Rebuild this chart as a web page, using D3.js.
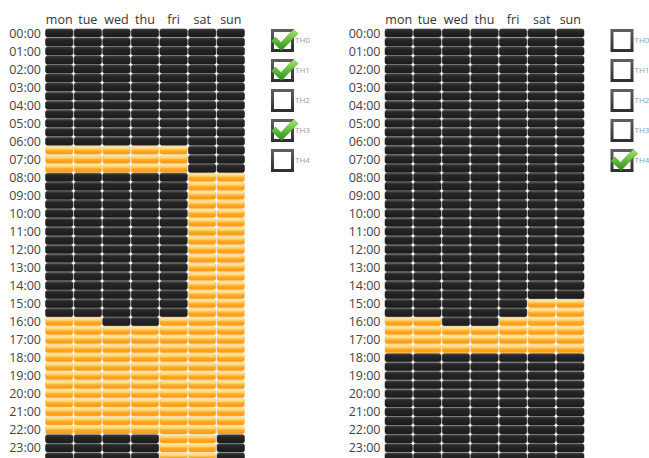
<!DOCTYPE html>
<html>
<head>
<meta charset="utf-8">
<script src="https://cdn.jsdelivr.net/npm/d3@7"></script>
<style>
  body { margin: 0; background: #fff; }
  svg { display: block; }
</style>
</head>
<body>
<svg id="chart" width="649" height="458"></svg>
<script>
// days and hours
var days = ["mon", "tue", "wed", "thu", "fri", "sat", "sun"];
var hours = ["00:00","01:00","02:00","03:00","04:00","05:00","06:00","07:00","08:00","09:00","10:00","11:00",
             "12:00","13:00","14:00","15:00","16:00","17:00","18:00","19:00","20:00","21:00","22:00","23:00"];
var thermos = ["TH0", "TH1", "TH2", "TH3", "TH4"];

// "on" periods per day, [from, to) in half hours
var scheduleLeft = [
  [["06:30","08:00"], ["16:00","22:30"]],
  [["06:30","08:00"], ["16:00","22:30"]],
  [["06:30","08:00"], ["16:30","22:30"]],
  [["06:30","08:00"], ["16:30","22:30"]],
  [["06:30","08:00"], ["16:00","24:00"]],
  [["08:00","24:00"]],
  [["08:00","22:30"]]
];
var scheduleRight = [
  [["16:00","18:00"]],
  [["16:00","18:00"]],
  [["16:30","18:00"]],
  [["16:30","18:00"]],
  [["16:00","18:00"]],
  [["15:00","18:00"]],
  [["15:00","18:00"]]
];
var checkedLeft = [true, true, false, true, false];
var checkedRight = [false, false, false, false, true];

var svg = d3.select("#chart");

var defs = svg.append("defs");
var gOff = defs.append("linearGradient").attr("id", "cellOff").attr("x1", 0).attr("y1", 0).attr("x2", 0).attr("y2", 1);
gOff.append("stop").attr("offset", "0%").attr("stop-color", "#4a4a4a");
gOff.append("stop").attr("offset", "25%").attr("stop-color", "#262626");
gOff.append("stop").attr("offset", "100%").attr("stop-color", "#1c1c1c");
var gOn = defs.append("linearGradient").attr("id", "cellOn").attr("x1", 0).attr("y1", 0).attr("x2", 0).attr("y2", 1);
gOn.append("stop").attr("offset", "0%").attr("stop-color", "#fff2c0");
gOn.append("stop").attr("offset", "35%").attr("stop-color", "#ffcf5e");
gOn.append("stop").attr("offset", "55%").attr("stop-color", "#ffa82a");
gOn.append("stop").attr("offset", "100%").attr("stop-color", "#ff9808");
var gBox = defs.append("linearGradient").attr("id", "boxEdge").attr("x1", 0).attr("y1", 0).attr("x2", 0).attr("y2", 1);
gBox.append("stop").attr("offset", "0%").attr("stop-color", "#5e5e5e");
gBox.append("stop").attr("offset", "100%").attr("stop-color", "#303030");
var gTick = defs.append("linearGradient").attr("id", "tick").attr("x1", 0).attr("y1", 0).attr("x2", 0).attr("y2", 1);
gTick.append("stop").attr("offset", "0%").attr("stop-color", "#a6e868");
gTick.append("stop").attr("offset", "100%").attr("stop-color", "#2a9016");

function toSlot(t) {
  var p = t.split(":");
  return +p[0] * 2 + (+p[1] >= 30 ? 1 : 0);
}

var slots = d3.range(48);

function panel(dx, schedule, checked) {
  var g = svg.append("g").attr("transform", "translate(" + dx + ",0)");

  var x = d3.scaleBand().domain(days).range([45.5, 244.5]).paddingInner(0.04);
  var y = d3.scaleBand().domain(slots).range([29, 461]).paddingInner(0.1);

  var cells = [];
  days.forEach(function(d, i) {
    slots.forEach(function(s) {
      var on = schedule[i].some(function(r) { return s >= toSlot(r[0]) && s < toSlot(r[1]); });
      cells.push({day: d, slot: s, on: on});
    });
  });

  g.append("g").selectAll("rect")
    .data(cells)
    .enter().append("rect")
      .attr("x", d => x(d.day))
      .attr("y", d => y(d.slot))
      .attr("width", x.bandwidth())
      .attr("height", y.bandwidth())
      .attr("rx", 2)
      .attr("fill", d => d.on ? "url(#cellOn)" : "url(#cellOff)")
      .attr("stroke", d => d.on ? "#f3b95a" : "#1a1a1a")
      .attr("stroke-width", 0.5);

  g.append("g").selectAll("text")
    .data(days)
    .enter().append("text")
      .attr("x", d => x(d) + x.bandwidth() / 2)
      .attr("y", 24)
      .attr("text-anchor", "middle")
      .style("font-family", "Open Sans")
      .style("font-size", "12.5px")
      .style("fill", "#333")
      .text(d => d);

  g.append("g").selectAll("text")
    .data(hours)
    .enter().append("text")
      .attr("x", 41)
      .attr("y", (d, i) => y(i * 2) + y.bandwidth() / 2)
      .attr("dy", "0.36em")
      .attr("text-anchor", "end")
      .style("font-family", "Open Sans")
      .style("font-size", "12.5px")
      .style("fill", "#444")
      .text(d => d);

  // checkboxes
  var cb = g.append("g").selectAll("g")
    .data(thermos)
    .enter().append("g")
      .attr("transform", (d, i) => "translate(271," + (29 + i * 30) + ")");

  cb.append("rect")
    .attr("x", 1.5).attr("y", 1.5)
    .attr("width", 20).attr("height", 20)
    .attr("fill", "#fff")
    .attr("stroke", "url(#boxEdge)")
    .attr("stroke-width", 3);

  cb.filter((d, i) => checked[i]).append("path")
    .attr("d", "M0.5,12 L4.5,8 L10,13.5 L22.5,0.5 L27,4.5 L10.5,21.5 Z")
    .attr("fill", "url(#tick)")
    .attr("stroke", "#3a9a22")
    .attr("stroke-width", 0.5);

  cb.append("text")
    .attr("x", 24).attr("y", 11.5)
    .attr("dy", "0.35em")
    .style("font-family", "Open Sans")
    .style("font-size", "8px")
    .style("fill", "#8fa0a8")
    .text(d => d);
}

panel(0, scheduleLeft, checkedLeft);
panel(339.5, scheduleRight, checkedRight);
</script>
</body>
</html>
